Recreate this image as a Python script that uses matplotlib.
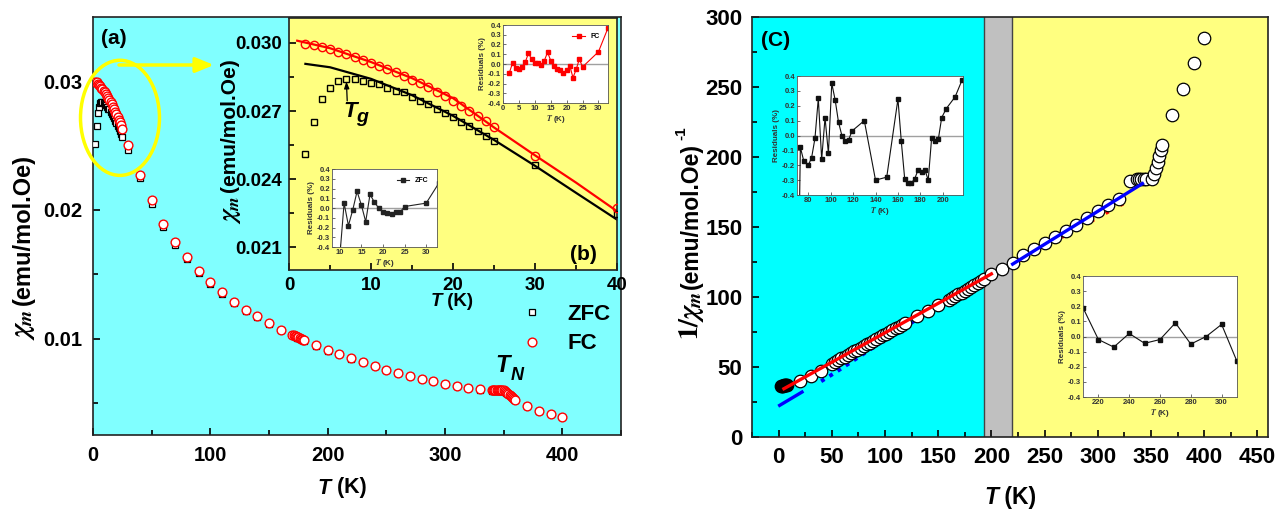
import matplotlib
matplotlib.use('Agg')
import matplotlib.pyplot as plt
from matplotlib.patches import Ellipse
from matplotlib.ticker import MultipleLocator, FormatStrFormatter, FixedLocator
from matplotlib.offsetbox import TextArea, HPacker, AnnotationBbox

# ------------------------------------------------------------------ data
# panel (a)/(b): low temperature ZFC / FC susceptibility
T_low = [2, 3, 4, 5, 6, 7, 8, 9, 10, 11, 12, 13, 14, 15, 16, 17, 18, 19, 20, 21, 22, 23, 24, 25]
fc_low = [0.02995, 0.02991, 0.02982, 0.02972, 0.02961, 0.02950, 0.02938, 0.02926, 0.02913, 0.02900,
          0.02886, 0.02871, 0.02855, 0.02839, 0.02822, 0.02804, 0.02785, 0.02765, 0.02745, 0.02724,
          0.02702, 0.02680, 0.02657, 0.02630]
zfc_low = [0.02512, 0.02653, 0.02755, 0.02803, 0.02832, 0.02842, 0.02840, 0.02832, 0.02825, 0.02818,
           0.02803, 0.02788, 0.02784, 0.02762, 0.02743, 0.02733, 0.02711, 0.02692, 0.02672, 0.02653,
           0.02634, 0.02614, 0.02590, 0.02570]

# panel (a): higher temperature points
T_fc_hi = [30, 40, 50, 60, 70, 80, 90, 100, 110, 120, 130, 140, 150, 160,
           170, 171, 172, 173, 174, 175, 176, 177, 178, 179, 180,
           190, 200, 210, 220, 230, 240, 250, 260, 270, 280, 290, 300, 310, 320, 330,
           340, 341, 342, 343, 344, 345, 346, 347, 348, 349, 350,
           351, 352, 353, 354, 355, 356, 357, 358, 359, 360,
           370, 380, 390, 400]
fc_hi = [0.02503, 0.02273, 0.02080, 0.01894, 0.01751, 0.01632, 0.01523, 0.01438, 0.01360, 0.01285,
         0.01225, 0.01174, 0.01120, 0.01070,
         0.01031, 0.01027, 0.01022, 0.01018, 0.01013, 0.01009, 0.01004, 0.01000, 0.00996, 0.00991, 0.00987,
         0.00948, 0.00909, 0.00883, 0.00845, 0.00819, 0.00790, 0.00759, 0.00733, 0.00712, 0.00687,
         0.00671, 0.00648, 0.00632, 0.00617, 0.00604,
         0.00598, 0.00598, 0.00598, 0.00598, 0.00598, 0.00598, 0.00598, 0.00598, 0.00598, 0.00597, 0.00596,
         0.00590, 0.00583, 0.00576, 0.00570, 0.00563, 0.00555, 0.00548, 0.00540, 0.00533, 0.00526,
         0.00479, 0.00440, 0.00414, 0.00389]
T_zfc_hi = [30, 40, 50, 60, 70, 80, 90, 100, 110, 120, 130, 140, 150, 160,
            170, 171, 172, 173, 174, 175, 176, 177, 178, 179, 180,
            190, 200, 210, 220, 230, 240, 250, 260, 270, 280, 290, 300, 310, 320, 330,
            340, 341, 342, 343, 344, 345, 346, 347, 348, 349, 350,
            351, 352, 353, 354, 355, 356, 357, 358, 359, 360,
            370, 380]
zfc_hi = [0.02463, 0.02245, 0.02047, 0.01870, 0.01730, 0.01615, 0.01508, 0.01425, 0.01348, 0.01275,
          0.01215, 0.01165, 0.01112, 0.01063,
          0.01026, 0.01022, 0.01017, 0.01013, 0.01008, 0.01004, 0.00999, 0.00995, 0.00991, 0.00986, 0.00982,
          0.00943, 0.00905, 0.00878, 0.00841, 0.00815, 0.00786, 0.00755, 0.00729, 0.00708, 0.00683,
          0.00667, 0.00644, 0.00628, 0.00613, 0.00600,
          0.00595, 0.00595, 0.00595, 0.00595, 0.00595, 0.00595, 0.00595, 0.00595, 0.00595, 0.00594, 0.00593,
          0.00587, 0.00580, 0.00573, 0.00567, 0.00560, 0.00552, 0.00545, 0.00537, 0.00530, 0.00523,
          0.00476, 0.00437]

# panel (b): fit curves
fitT_fc = [1, 5, 10, 15, 20, 25, 30, 35, 40]
fit_fc = [0.03010, 0.02977, 0.02916, 0.02845, 0.02757, 0.02628, 0.02505, 0.02385, 0.02259]
fitT_zfc = [2, 5, 10, 15, 20, 25, 30, 35, 40]
fit_zfc = [0.02908, 0.02893, 0.02842, 0.02770, 0.02679, 0.02573, 0.02459, 0.02340, 0.02222]

# panel (b) residual insets
resT_fc = [2, 3, 4, 5, 6, 7, 8, 9, 10, 11, 12, 13, 14, 15, 16, 17, 18, 19, 20, 21, 22, 23, 24, 25, 30, 33]
res_fc = [-0.09, 0.01, -0.04, -0.05, -0.03, 0.02, 0.11, 0.05, 0.01, 0.01, -0.01, 0.035, 0.12, 0.035,
          -0.02, -0.055, -0.065, -0.09, -0.065, -0.02, -0.14, -0.055, 0.05, -0.03, 0.125, 0.37]
resT_zfc = [10, 11, 12, 13, 14, 15, 16, 17, 18, 19, 20, 21, 22, 23, 24, 25, 30, 33]
res_zfc = [-0.5, 0.05, -0.18, -0.02, 0.17, 0.03, -0.14, 0.14, 0.06, 0.0, -0.04, -0.055, -0.06,
           -0.04, -0.04, 0.015, 0.05, 0.26]

# panel (c): inverse susceptibility
T_c_black = [2, 3, 4, 5, 6, 7, 8]
inv_black = [36.3, 36.4, 36.6, 36.8, 37.0, 37.2, 37.4]
T_c = [20, 30, 40,
       50, 53, 56, 59, 62, 65, 68, 71, 74, 77, 80, 83, 86, 89, 92, 95, 98, 101, 104, 107, 110, 113, 116, 119,
       130, 140, 150,
       160, 163, 166, 169, 172, 175, 178, 181, 184, 187, 190, 193,
       200, 210, 220, 230, 240, 250, 260, 270, 280, 290, 300, 310, 320, 330,
       337, 339, 341, 343, 345,
       351, 352.5, 354.5, 356.5, 358, 359, 360,
       370, 380, 390, 400]
inv_c = [40.0, 43.6, 46.9,
         52.4, 53.6, 54.9, 56.2, 57.4, 58.7, 59.9, 61.2, 62.5, 63.7, 65.0, 66.2, 67.5, 68.8, 70.0, 71.3,
         72.6, 73.8, 75.1, 76.3, 77.6, 78.9, 80.1, 81.4,
         86.4, 90.0, 94.0,
         97.6, 99.0, 100.4, 101.8, 103.2, 104.6, 106.0, 107.4, 108.8, 110.2, 111.6, 113.0,
         116.5, 120.0, 124.0, 130.2, 134.5, 138.6, 142.9, 147.4, 151.6, 156.4, 161.2, 165.4, 169.7, 182.6,
         184.0, 184.2, 184.3, 184.4, 184.5,
         184.2, 188.0, 192.0, 196.4, 200.4, 204.7, 208.3,
         229.7, 248.8, 267.1, 285.0]
# panel (c): linear fits
red_fit_T = [5, 200]
red_fit = [34.5, 116.5]
red_dot_T = [225, 325]
red_dot = [125.5, 167.0]
blue_short_T = [1, 22]
blue_short = [22.6, 32.1]
blue_dot_T = [40, 54, 118, 196]
blue_dot = [39.8, 46.4, 78.6, 113.5]
blue_hi_T = [220, 342]
blue_hi = [123.5, 181.0]

# panel (c) residual insets
resT_c1 = [72, 73, 76, 80, 83, 86, 89, 92, 95, 98, 101, 104, 107, 110, 113, 116, 119, 130, 140, 150,
           160, 163, 166, 169, 172, 175, 178, 181, 184, 187, 190, 193, 196, 199, 203, 211, 217]
res_c1 = [-0.6, -0.08, -0.17, -0.20, -0.15, -0.02, 0.25, -0.16, 0.12, -0.12, 0.35, 0.24, 0.09, 0.0,
          -0.04, -0.03, 0.03, 0.10, -0.30, -0.28, 0.245, -0.04, -0.29, -0.32, -0.32, -0.29, -0.23, -0.245,
          -0.23, -0.30, -0.02, -0.04, -0.025, 0.12, 0.18, 0.26, 0.37]
resT_c2 = [210, 220, 230, 240, 250, 260, 270, 280, 290, 300, 310]
res_c2 = [0.19, -0.02, -0.07, 0.02, -0.045, -0.02, 0.09, -0.05, 0.0, 0.08, -0.165]

# ------------------------------------------------------------------ style
plt.rcParams['font.family'] = ['Liberation Sans', 'DejaVu Sans']
plt.rcParams['mathtext.fontset'] = 'stix'
plt.rcParams['font.weight'] = 'bold'

W, H = 1280, 511
fig = plt.figure(figsize=(12.8, 5.11), dpi=100)


def rect(l, t, r, b):
    return [l / W, 1 - b / H, (r - l) / W, (b - t) / H]


def fxy(x, y):
    return (x / W, 1 - y / H)


def mixed_label(x, y, size, zorder=20):
    parts = [TextArea('T', textprops=dict(fontsize=size, fontweight='bold', fontstyle='italic')),
             TextArea(' (K)', textprops=dict(fontsize=size, fontweight='bold'))]
    box = HPacker(children=parts, align='baseline', pad=0, sep=0)
    ab = AnnotationBbox(box, fxy(x, y), xycoords='figure fraction', frameon=False,
                        box_alignment=(0.5, 0.5), pad=0, zorder=zorder)
    fig.add_artist(ab)


def vlabel(x, ybottom, mathpart, textpart, msize, tsize, gap):
    """vertical label: math symbol at the bottom, bold text continuing upwards"""
    fig.text(*fxy(x, ybottom), mathpart, fontsize=msize, fontweight='normal', rotation=90,
             ha='center', va='bottom')
    fig.text(*fxy(x - 1, ybottom - gap), textpart, fontsize=tsize, fontweight='bold', rotation=90,
             ha='center', va='bottom')


def style_axis(ax, size, lw=1.2, major=5, minor=3.5, pad=6):
    for s in ax.spines.values():
        s.set_linewidth(lw)
        s.set_color('#222222')
    ax.tick_params(which='both', direction='in', width=lw, labelsize=size, pad=pad)
    ax.tick_params(which='major', length=major)
    ax.tick_params(which='minor', length=minor)
    for lab in ax.get_xticklabels() + ax.get_yticklabels():
        lab.set_fontweight('bold')


# ------------------------------------------------------------------ panel (a)
axa = fig.add_axes(rect(93, 17, 621, 435))
axa.set_facecolor('#80FFFF')
axa.plot(T_low, zfc_low, 's', ms=5, mfc='white', mec='black', mew=0.9, zorder=3)
axa.plot(T_zfc_hi, zfc_hi, 's', ms=5, mfc='white', mec='black', mew=0.9, zorder=3, label='ZFC')
axa.plot(T_low, fc_low, 'o', ms=6.3, mfc='white', mec='red', mew=1.0, zorder=4)
axa.plot(T_fc_hi, fc_hi, 'o', ms=6.3, mfc='white', mec='red', mew=1.0, zorder=4, label='FC')
axa.set_xlim(0, 450)
axa.set_ylim(0.0025, 0.035)
axa.xaxis.set_major_locator(FixedLocator([0, 100, 200, 300, 400]))
axa.xaxis.set_minor_locator(MultipleLocator(50))
axa.yaxis.set_major_locator(FixedLocator([0.01, 0.02, 0.03]))
axa.yaxis.set_minor_locator(FixedLocator([0.005, 0.015, 0.025]))
axa.yaxis.set_major_formatter(FormatStrFormatter('%.2f'))
style_axis(axa, 14.5, pad=8)
axa.legend(loc='center', bbox_to_anchor=fxy(568, 329), bbox_transform=fig.transFigure,
           frameon=False, handlelength=0.6, handletextpad=1.3, labelspacing=0.4,
           prop=dict(size=16, weight='bold'))

axa.add_patch(Ellipse((23.0, 0.02716), 67.3, 0.00895, fill=False, ec='#FFFF00', lw=2.5,
                      clip_on=False, zorder=6))
axa.annotate('', xy=fxy(214, 65), xycoords='figure fraction', xytext=fxy(119, 65),
             textcoords='figure fraction',
             arrowprops=dict(arrowstyle='-|>,head_length=1.1,head_width=0.45', color='#FFFF00', lw=2.5,
                             shrinkA=0, shrinkB=0), zorder=6)
fig.text(*fxy(114, 38), '(a)', fontsize=15, fontweight='bold', ha='center', va='center')
fig.text(*fxy(503, 366), 'T', fontsize=17, fontweight='bold', fontstyle='italic', ha='center', va='center')
fig.text(*fxy(517, 376), 'N', fontsize=13, fontweight='bold', fontstyle='italic', ha='center', va='center')
vlabel(24, 340, r'$\chi_m$', '(emu/mol.Oe)', 20, 17, 35)
mixed_label(342, 488, 15.5)

# ------------------------------------------------------------------ inset (b)
axb = fig.add_axes(rect(289, 18, 617, 270), zorder=5)
axb.set_facecolor('#FFFF80')
axb.plot(fitT_fc, fit_fc, '-', color='red', lw=1.6, zorder=2)
axb.plot(fitT_zfc, fit_zfc, '-', color='black', lw=1.6, zorder=2)
axb.plot(T_low + T_zfc_hi, zfc_low + zfc_hi, 's', ms=5, mfc='none', mec='black', mew=1.0, zorder=3)
axb.plot(T_low + T_fc_hi, fc_low + fc_hi, 'o', ms=6, mfc='none', mec='red', mew=1.0, zorder=3)
axb.set_xlim(0, 40)
axb.set_ylim(0.0200, 0.0311)
axb.xaxis.set_major_locator(MultipleLocator(10))
axb.xaxis.set_minor_locator(MultipleLocator(5))
axb.yaxis.set_major_locator(FixedLocator([0.021, 0.024, 0.027, 0.030]))
axb.yaxis.set_minor_locator(FixedLocator([0.0225, 0.0255, 0.0285]))
axb.yaxis.set_major_formatter(FormatStrFormatter('%.3f'))
style_axis(axb, 13.5, pad=5)
fig.text(*fxy(583, 254), '(b)', fontsize=15, fontweight='bold', ha='center', va='center', zorder=30)
axb.annotate('', xy=(7, 0.02830), xytext=(7.1, 0.02745),
             arrowprops=dict(arrowstyle='-|>,head_length=0.4,head_width=0.15', color='black', lw=0.9,
                             shrinkA=0, shrinkB=0))
fig.text(*fxy(350, 111), 'T', fontsize=16, fontweight='bold', fontstyle='italic', ha='center',
         va='center', zorder=30)
fig.text(*fxy(362, 117), 'g', fontsize=14, fontweight='bold', fontstyle='italic', ha='center',
         va='center', zorder=30)
vlabel(231, 224, r'$\chi_m$', '(emu/mol.Oe)', 18, 15, 32)
mixed_label(452, 302, 13.5)


def residual_axes(r, xs, ys, color, xlim, xmaj, legend=None, zorder=8):
    ax = fig.add_axes(r, zorder=zorder)
    ax.set_facecolor('white')
    ax.axhline(0, color='#a0a0a0', lw=1.0, zorder=1)
    ax.plot(xs, ys, '-', color=color, lw=0.8, marker='s', ms=2.2, mfc=color, mec=color, zorder=2,
            label=legend)
    ax.set_xlim(*xlim)
    ax.set_ylim(-0.4, 0.4)
    ax.xaxis.set_major_locator(MultipleLocator(xmaj))
    ax.yaxis.set_major_locator(MultipleLocator(0.1))
    ax.yaxis.set_major_formatter(FormatStrFormatter('%.1f'))
    for s in ax.spines.values():
        s.set_linewidth(0.6)
        s.set_color('#555555')
    ax.tick_params(which='both', direction='in', width=0.5, labelsize=5.5, pad=1.5, colors='#333333')
    ax.tick_params(which='major', length=2)
    for lab in ax.get_xticklabels() + ax.get_yticklabels():
        lab.set_fontweight('bold')
    ax.set_ylabel('Residuals (%)', fontsize=5.8, fontweight='bold', labelpad=1, color='#333333')
    ax.set_xlabel(r'$\mathit{T}$ (K)', fontsize=5.8, fontweight='bold', labelpad=0.5, color='#333333')
    if legend:
        ax.legend(loc='upper right', frameon=False, handlelength=1.8,
                  prop=dict(size=5, weight='bold'), borderaxespad=0.8)
    return ax


residual_axes(rect(503, 25, 608, 103), resT_fc, res_fc, 'red', (0, 33), 5, legend='FC')
residual_axes(rect(332, 169, 437, 247), resT_zfc, res_zfc, '#222222', (8.2, 32.5), 5, legend='ZFC')

# ------------------------------------------------------------------ panel (c)
axc = fig.add_axes(rect(752, 17, 1268, 437))
axc.set_xlim(-25, 460)
axc.set_ylim(0, 300)
axc.axvspan(-25, 193, color='#00FFFF', zorder=0, lw=0)
axc.axvspan(193, 219, color='#C0C0C0', zorder=0, lw=0)
axc.axvspan(219, 460, color='#FFFF80', zorder=0, lw=0)
axc.axvline(193, color='#444444', lw=1.0, zorder=1)
axc.axvline(219, color='#444444', lw=1.0, zorder=1)
axc.plot(blue_dot_T, blue_dot, color='#0000FF', lw=2.8, ls=(0, (1.0, 1.5)), zorder=2)
axc.plot(red_dot_T, red_dot, color='red', lw=2.4, ls=(0, (1.0, 4.0)), zorder=2)
axc.plot(T_c, inv_c, 'o', ms=9, mfc='white', mec='black', mew=0.9, zorder=3)
axc.plot(T_c_black, inv_black, 'o', ms=9, mfc='black', mec='black', mew=0.9, zorder=3)
axc.plot(red_fit_T, red_fit, '-', color='red', lw=2.4, zorder=4)
axc.plot(blue_short_T, blue_short, '-', color='#0000FF', lw=2.4, zorder=4)
axc.plot(blue_hi_T, blue_hi, '-', color='#0000FF', lw=2.4, zorder=4)
axc.xaxis.set_major_locator(MultipleLocator(50))
axc.xaxis.set_minor_locator(MultipleLocator(25))
axc.yaxis.set_major_locator(MultipleLocator(50))
axc.yaxis.set_minor_locator(MultipleLocator(25))
style_axis(axc, 16, pad=7)
fig.text(*fxy(776, 40), '(C)', fontsize=15, fontweight='bold', ha='center', va='center', zorder=30)
vlabel(692, 340, r'$1/\chi_m$', '(emu/mol.Oe)', 20, 16.5, 51)
fig.text(*fxy(681, 140), '-1', fontsize=11, fontweight='bold', rotation=90, ha='center', va='bottom')
mixed_label(1010, 497, 16.5)

residual_axes(rect(797, 76, 963, 195), resT_c1, res_c1, '#111111', (70, 218), 20, zorder=8)
residual_axes(rect(1083, 276, 1237, 397), resT_c2, res_c2, '#111111', (210, 310), 20, zorder=8)

fig.savefig('out.png', dpi=100)
